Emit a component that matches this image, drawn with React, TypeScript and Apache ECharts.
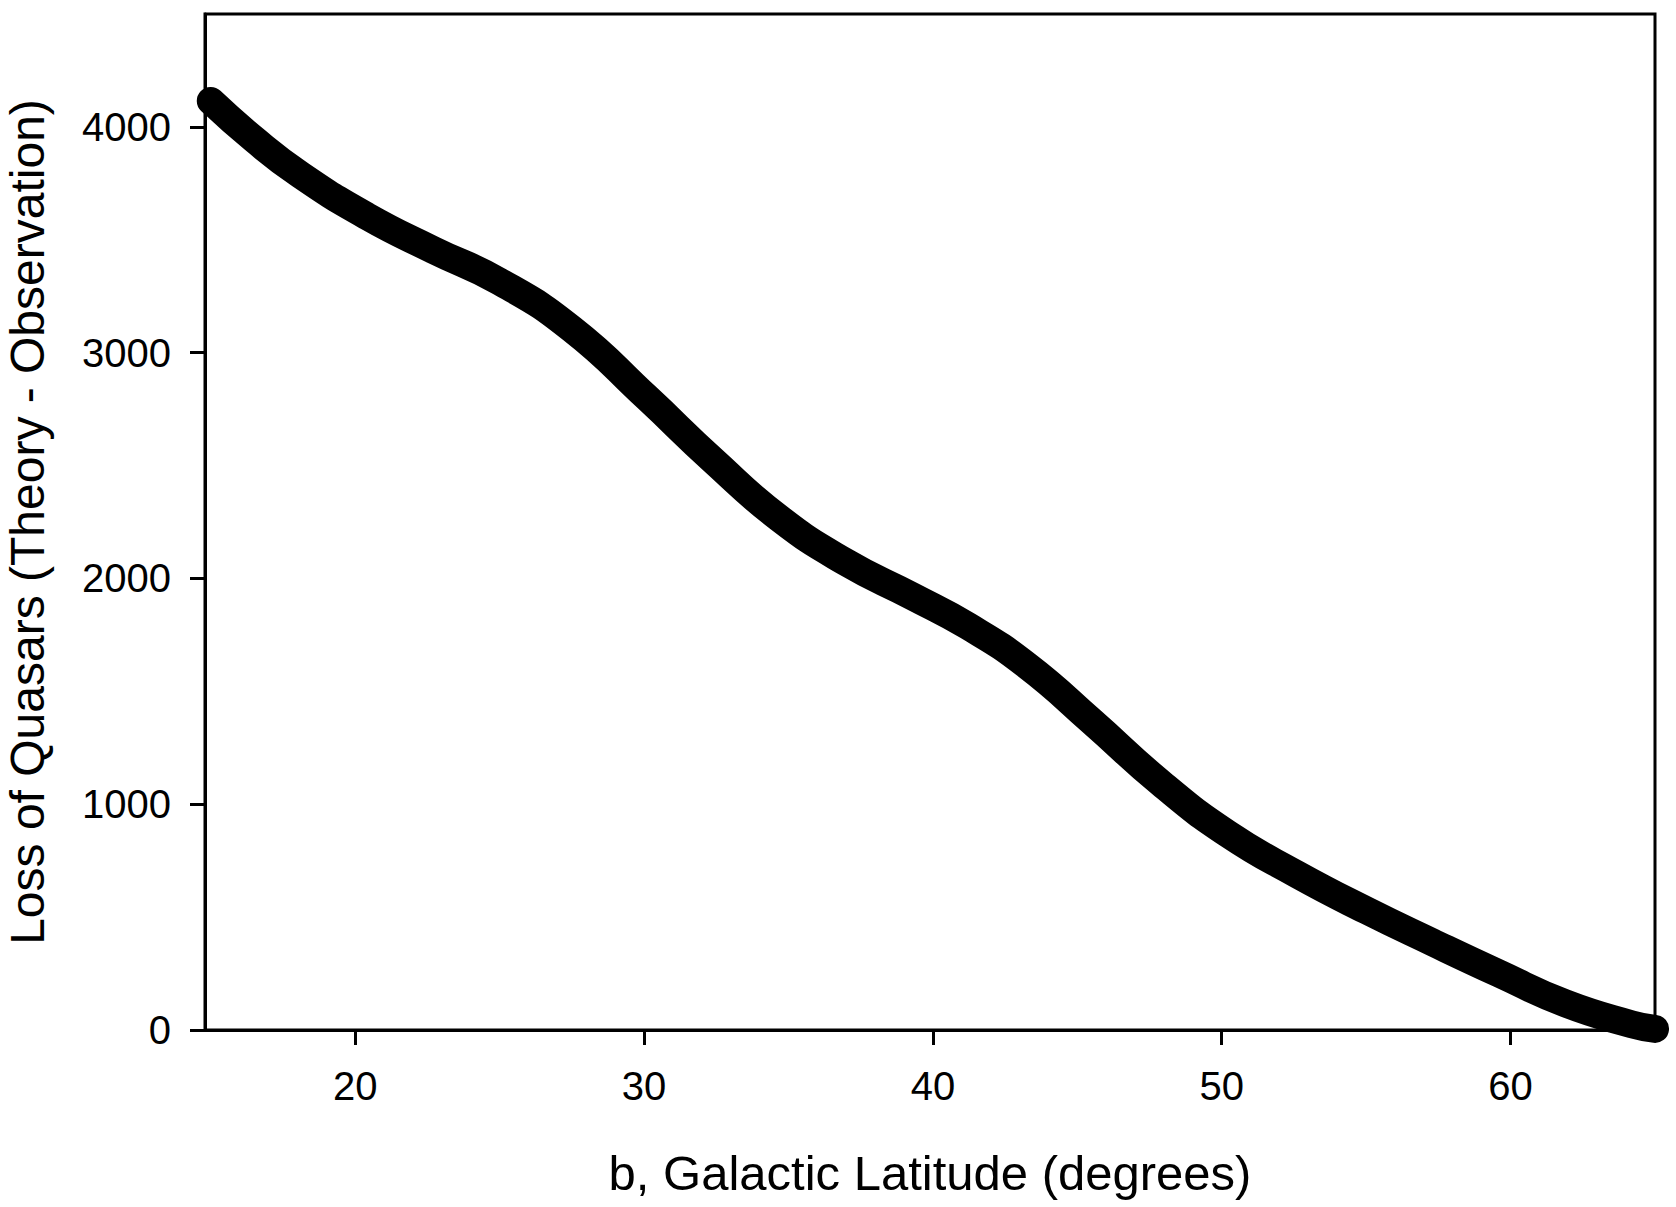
import React, { useEffect, useRef } from "react";
import * as echarts from "echarts";

const latitude = [15.0, 16.5, 18.1, 20.4, 22.7, 25.0, 27.5, 30.1, 32.4, 34.7, 37.0, 39.3, 41.2, 43.25, 45.5, 47.9, 50.2, 52.6, 55.0, 57.3, 59.6, 61.9, 64.2, 65.0];
const loss = [4115, 3945, 3788, 3605, 3455, 3315, 3105, 2801, 2522, 2265, 2071, 1920, 1790, 1615, 1367, 1093, 870, 690, 530, 388, 250, 118, 25, 5];
const xTicks = [20, 30, 40, 50, 60];
const yTicks = [0, 1000, 2000, 3000, 4000];
const xTitle = "b, Galactic Latitude (degrees)";
const yTitle = "Loss of Quasars (Theory - Observation)";

export default function App() {
  const ref = useRef<HTMLDivElement>(null);
  useEffect(() => {
    if (!ref.current) return;
    const chart = echarts.init(ref.current, null, { renderer: "svg" });
    const font = "Liberation Sans, Arial, sans-serif";
    chart.setOption({
      animation: false,
      backgroundColor: "#ffffff",
      grid: {
        left: 205,
        top: 14,
        right: 21,
        bottom: 177,
        containLabel: false,
        outerBoundsMode: "none",
        show: true,
        borderColor: "#000",
        borderWidth: 3,
      },
      xAxis: {
        type: "value",
        min: 14.8,
        max: 65,
        name: xTitle,
        nameLocation: "middle",
        nameGap: 118,
        nameTextStyle: { fontFamily: font, fontSize: 49, color: "#000" },
        axisLine: { show: true, lineStyle: { color: "#000", width: 3 } },
        axisTick: { show: true, length: 15, lineStyle: { color: "#000", width: 3 }, customValues: xTicks },
        axisLabel: { fontFamily: font, fontSize: 40, color: "#000", margin: 36, customValues: xTicks },
        splitLine: { show: false },
      },
      yAxis: {
        type: "value",
        min: 0,
        max: 4500,
        name: yTitle,
        nameLocation: "middle",
        nameGap: 154,
        nameRotate: 90,
        nameTextStyle: { fontFamily: font, fontSize: 48, color: "#000", lineHeight: 48 },
        axisLine: { show: true, lineStyle: { color: "#000", width: 3 } },
        axisTick: { show: true, length: 15, lineStyle: { color: "#000", width: 3 }, customValues: yTicks },
        axisLabel: {
          fontFamily: font,
          fontSize: 40,
          color: "#000",
          margin: 34,
          customValues: yTicks,
          formatter: (v: number) => String(v),
        },
        splitLine: { show: false },
      },
      series: [
        {
          type: "line",
          data: latitude.map((x, i) => [x, loss[i]]),
          smooth: 0.5,
          showSymbol: false,
          clip: false,
          lineStyle: { color: "#000", width: 28, cap: "round", join: "round" },
        },
      ],
    });
    return () => chart.dispose();
  }, []);
  return (
    <div
      ref={ref}
      style={{ position: "fixed", left: 0, top: 0, width: 1676, height: 1207, background: "#fff" }}
    />
  );
}
